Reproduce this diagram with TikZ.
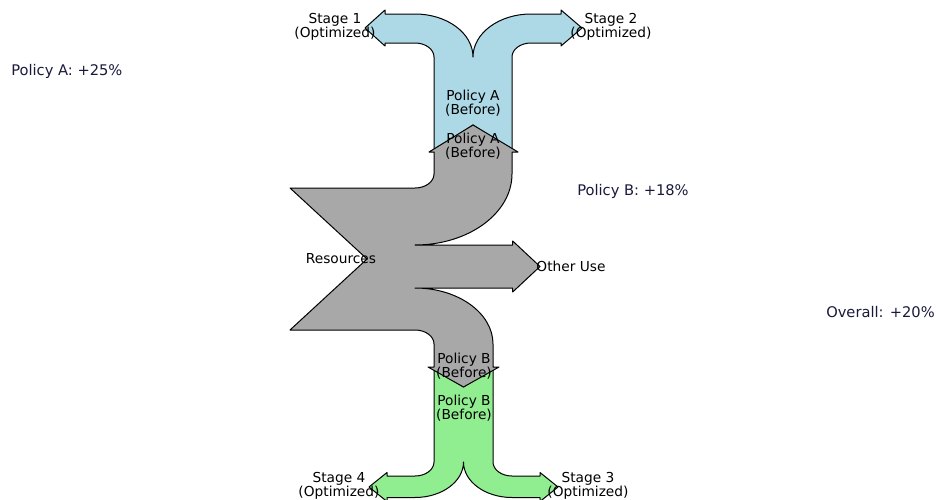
\documentclass[tikz,border=0pt]{standalone}
\usepackage{fontspec}
\setmainfont{DejaVu Sans}
\definecolor{flowgray}{RGB}{168,168,168}
\definecolor{flowblue}{RGB}{173,216,230}
\definecolor{flowgreen}{RGB}{144,238,144}
\definecolor{notecol}{RGB}{25,25,60}
\begin{document}
\begin{tikzpicture}[x=0.75pt, y=-0.75pt,
        flow/.style = {draw=black, line width=0.75pt, line join=round},
        lbl/.style = {inner sep=0pt, align=center,
            font=\fontsize{10.3}{9.6}\selectfont},
        gain/.style = {inner sep=0pt, anchor=west, text=notecol,
            font=\fontsize{11}{13}\selectfont}]

    \useasboundingbox (0,0) rectangle (936,500);

    % Policy A (after)
    \draw[flow, fill=flowblue] (434,152) -- (434,57)
        arc[start angle=0, end angle=-90, x radius=19, y radius=14]
        -- (385,43) -- (385,46) -- (365,28) -- (385,10) -- (385,14) -- (415,14)
        arc[start angle=-90, end angle=0, x radius=58, y radius=43]
        arc[start angle=180, end angle=270, x radius=58, y radius=43]
        -- (561,14) -- (561,10) -- (582,28) -- (561,46) -- (561,43) -- (531,43)
        arc[start angle=270, end angle=180, x radius=19, y radius=14]
        -- (512,152) -- (473,125) -- cycle;

    % Policy B (after)
    \draw[flow, fill=flowgreen] (434,367) -- (463.5,387) -- (493,367) -- (493,462)
        arc[start angle=180, end angle=90, x radius=19, y radius=14]
        -- (540,476) -- (540,472.5) -- (558,487) -- (540,501.5) -- (540,497.5) -- (512,497.5)
        arc[start angle=90, end angle=180, x radius=48.5, y radius=35.5]
        arc[start angle=0, end angle=90, x radius=48.5, y radius=35.5]
        -- (387,497.5) -- (387,501.5) -- (369,487) -- (387,472.5) -- (387,476) -- (415,476)
        arc[start angle=90, end angle=0, x radius=19, y radius=14]
        -- cycle;

    % Resources
    \draw[flow, fill=flowgray] (290,188) -- (415,188)
        arc[start angle=90, end angle=0, x radius=19, y radius=14]
        -- (434,152) -- (429,152) -- (473,125) -- (518,152) -- (512,152) -- (512,174)
        arc[start angle=0, end angle=90, x radius=97, y radius=71]
        -- (512.7,245) -- (512.7,241) -- (540,266.5) -- (512.7,292) -- (512.7,288) -- (415,288)
        arc[start angle=-90, end angle=0, x radius=78, y radius=56]
        -- (493,367) -- (499,367) -- (463.5,387) -- (428,367) -- (434,367) -- (434,344)
        arc[start angle=0, end angle=-90, x radius=19, y radius=14]
        -- (290,330) -- (367,259) -- cycle;

    % Flow labels
    \node[lbl] (st1) at (335,27) {Stage 1\\(Optimized)};
    \node[lbl] (st2) at (611,27) {Stage 2\\(Optimized)};
    \node[lbl] (paa) at (473,103) {Policy A\\(Before)};
    \node[lbl] (pab) at (473,146) {Policy A\\(Before)};
    \node[lbl] (res) at (341,259) {Resources};
    \node[lbl] (oth) at (571,266) {Other Use};
    \node[lbl] (pbb) at (464,366) {Policy B\\(Before)};
    \node[lbl] (pba) at (464,408) {Policy B\\(Before)};
    \node[lbl] (st4) at (339,486) {Stage 4\\(Optimized)};
    \node[lbl] (st3) at (588,486) {Stage 3\\(Optimized)};

    % Gains
    \node[gain] (ga) at (11,71) {Policy A: +25\%};
    \node[gain] (gb) at (577,191) {Policy B: +18\%};
    \node[gain] (gall) at (826,312) {Overall: +20\%};

\end{tikzpicture}
\end{document}
